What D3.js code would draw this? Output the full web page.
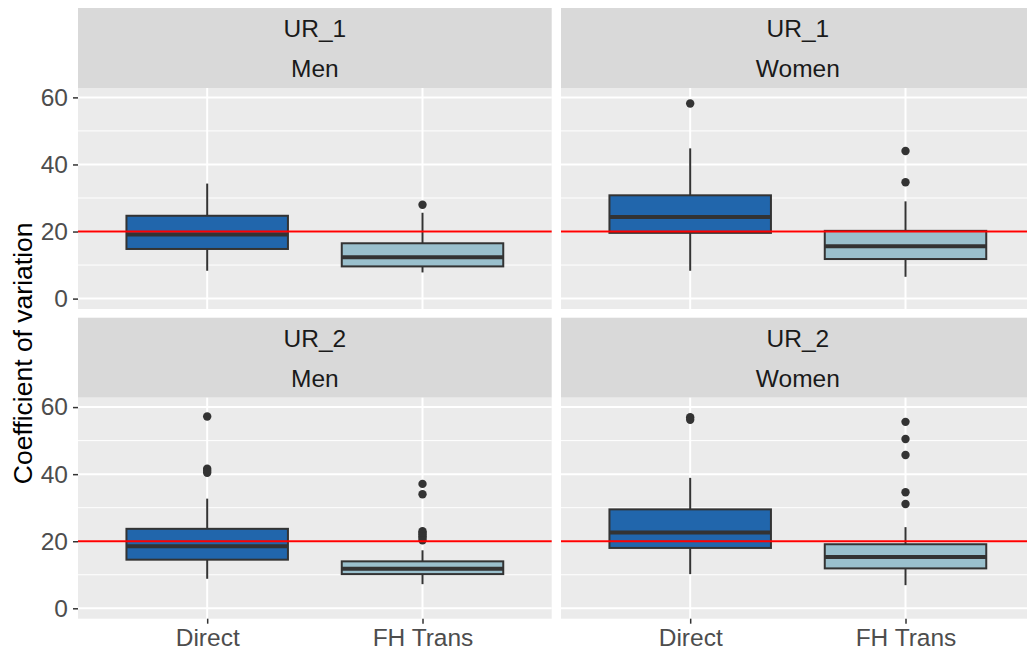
<!DOCTYPE html>
<html>
<head>
<meta charset="utf-8">
<script src="https://cdn.jsdelivr.net/npm/d3@7"></script>
<style>
  html, body { margin: 0; padding: 0; background: #fff; }
  svg { display: block; font-family: "Liberation Sans", Arial, sans-serif; }
</style>
</head>
<body>
<svg id="chart" width="1027" height="653"></svg>
<script>
// Categories and facet labels
const categories = ["Direct", "FH Trans"];
const regionLabels = ["UR_1", "UR_2"];
const sexLabels = ["Men", "Women"];
const yTicks = [0, 20, 40, 60];
const yMinor = [10, 30, 50];
const threshold = 20;

// Box statistics per facet: lower whisker, Q1, median, Q3, upper whisker, outliers
const ur1Men = [
  { cat: "Direct",   lower: 8.3, q1: 14.8, median: 19.1, q3: 24.7, upper: 34.3, outliers: [] },
  { cat: "FH Trans", lower: 7.8, q1: 9.6,  median: 12.3, q3: 16.5, upper: 25.6, outliers: [28.0] }
];
const ur1Women = [
  { cat: "Direct",   lower: 8.3, q1: 19.6, median: 24.3, q3: 30.8, upper: 44.8, outliers: [58.2] },
  { cat: "FH Trans", lower: 6.5, q1: 11.8, median: 15.6, q3: 20.2, upper: 29.0, outliers: [44.0, 34.7] }
];
const ur2Men = [
  { cat: "Direct",   lower: 8.8, q1: 14.5, median: 18.5, q3: 23.7, upper: 32.7, outliers: [57.2, 41.6, 41.0, 40.4] },
  { cat: "FH Trans", lower: 7.2, q1: 10.2, median: 11.8, q3: 14.0, upper: 17.3, outliers: [37.1, 34.0, 23.0, 22.5, 22.0, 21.5, 21.0, 20.3] }
];
const ur2Women = [
  { cat: "Direct",   lower: 10.2, q1: 18.0, median: 22.6, q3: 29.5, upper: 38.9, outliers: [57.0, 56.2] },
  { cat: "FH Trans", lower: 6.9,  q1: 11.9, median: 15.3, q3: 19.1, upper: 24.2, outliers: [55.6, 50.5, 45.7, 34.6, 31.1] }
];

const fills = { "Direct": "#2166AC", "FH Trans": "#9AC0CD" };

const facets = [
  { row: 0, col: 0, region: regionLabels[0], sex: sexLabels[0], boxes: ur1Men },
  { row: 0, col: 1, region: regionLabels[0], sex: sexLabels[1], boxes: ur1Women },
  { row: 1, col: 0, region: regionLabels[1], sex: sexLabels[0], boxes: ur2Men },
  { row: 1, col: 1, region: regionLabels[1], sex: sexLabels[1], boxes: ur2Women }
];

// Layout
const panelLeft = [78, 561];
const panelWidth = 473.7;
const stripTop = [8, 317.7];
const stripH = 40;
const panelH = 221;
const textSize = 24.5;

const svg = d3.select("#chart");

const y = d3.scaleLinear().domain([-3.1, 62.8]).range([panelH, 0]);
const x = d3.scalePoint().domain(categories).range([0, panelWidth]).padding(0.6);
const boxW = x.step() * 0.75;

facets.forEach(f => {
  const px = panelLeft[f.col];
  const sTop = stripTop[f.row];
  const pTop = sTop + 2 * stripH;

  // strips
  const s = svg.append("g").attr("transform", `translate(${px},${sTop})`);
  s.append("rect").attr("width", panelWidth).attr("height", 2 * stripH).attr("fill", "#D9D9D9");
  [f.region, f.sex].forEach((t, i) => {
    s.append("text")
      .attr("x", panelWidth / 2).attr("y", i * stripH + stripH / 2)
      .attr("dy", "0.36em").attr("text-anchor", "middle")
      .attr("font-size", textSize).attr("fill", "#1A1A1A").text(t);
  });

  const g = svg.append("g").attr("transform", `translate(${px},${pTop})`);
  g.append("rect").attr("width", panelWidth).attr("height", panelH).attr("fill", "#EBEBEB");

  // grid
  g.selectAll(".minor").data(yMinor).join("line")
    .attr("x1", 0).attr("x2", panelWidth)
    .attr("y1", d => y(d)).attr("y2", d => y(d))
    .attr("stroke", "#fff").attr("stroke-width", 1);
  g.selectAll(".major").data(yTicks).join("line")
    .attr("x1", 0).attr("x2", panelWidth)
    .attr("y1", d => y(d)).attr("y2", d => y(d))
    .attr("stroke", "#fff").attr("stroke-width", 2);
  g.selectAll(".vmajor").data(categories).join("line")
    .attr("x1", d => x(d)).attr("x2", d => x(d))
    .attr("y1", 0).attr("y2", panelH)
    .attr("stroke", "#fff").attr("stroke-width", 2);

  // boxplots
  f.boxes.forEach(b => {
    const cx = x(b.cat);
    const bg = g.append("g");
    bg.append("line").attr("x1", cx).attr("x2", cx)
      .attr("y1", y(b.q3)).attr("y2", y(b.upper))
      .attr("stroke", "#333333").attr("stroke-width", 2);
    bg.append("line").attr("x1", cx).attr("x2", cx)
      .attr("y1", y(b.q1)).attr("y2", y(b.lower))
      .attr("stroke", "#333333").attr("stroke-width", 2);
    bg.append("rect")
      .attr("x", cx - boxW / 2).attr("width", boxW)
      .attr("y", y(b.q3)).attr("height", y(b.q1) - y(b.q3))
      .attr("fill", fills[b.cat]).attr("stroke", "#333333").attr("stroke-width", 2);
    bg.append("line").attr("x1", cx - boxW / 2).attr("x2", cx + boxW / 2)
      .attr("y1", y(b.median)).attr("y2", y(b.median))
      .attr("stroke", "#333333").attr("stroke-width", 4);
    bg.selectAll("circle").data(b.outliers).join("circle")
      .attr("cx", cx).attr("cy", d => y(d)).attr("r", 4.2)
      .attr("fill", "#333333");
  });

  // reference line
  g.append("line").attr("x1", 0).attr("x2", panelWidth)
    .attr("y1", y(threshold)).attr("y2", y(threshold))
    .attr("stroke", "#FF0000").attr("stroke-width", 2);

  // y axis on left column
  if (f.col === 0) {
    const ya = g.append("g").call(d3.axisLeft(y).tickValues(yTicks).tickSize(5).tickPadding(5));
    ya.select(".domain").remove();
    ya.selectAll(".tick line").attr("stroke", "#333333").attr("stroke-width", 1.5);
    ya.selectAll(".tick text").attr("font-size", textSize).attr("fill", "#4D4D4D")
      .attr("font-family", "Liberation Sans, Arial, sans-serif");
  }
  // x axis on bottom row
  if (f.row === 1) {
    const xa = g.append("g").attr("transform", `translate(0,${panelH})`)
      .call(d3.axisBottom(x).tickSize(5).tickPadding(4.5));
    xa.select(".domain").remove();
    xa.selectAll(".tick line").attr("stroke", "#333333").attr("stroke-width", 1.5);
    xa.selectAll(".tick text").attr("font-size", textSize).attr("fill", "#4D4D4D")
      .attr("font-family", "Liberation Sans, Arial, sans-serif");
  }
});

// y axis title, centred on the panel rows
svg.append("text")
  .attr("transform", `translate(32,${(88 + 618.7) / 2}) rotate(-90)`)
  .attr("text-anchor", "middle")
  .attr("font-size", 26.5).attr("fill", "#000")
  .text("Coefficient of variation");
</script>
</body>
</html>
